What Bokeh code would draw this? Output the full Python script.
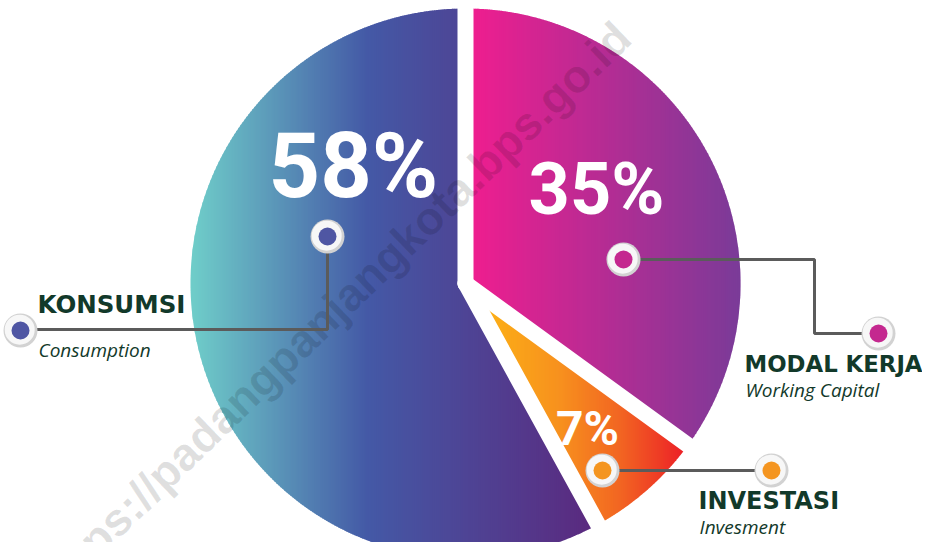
import numpy as np
from bokeh.plotting import figure
from bokeh.models import Range1d, ColumnDataSource
from bokeh.core.properties import value
from bokeh.embed import file_html
from bokeh.resources import INLINE

# ---------------- data ----------------
categories = ["MODAL KERJA", "INVESTASI", "KONSUMSI"]
subtitles = ["Working Capital", "Invesment", "Consumption"]
shares = [35, 7, 58]
pct_labels = ["35%", "7%", "58%"]
watermark = "https://padangpanjangkota.bps.go.id"

# ---------------- style / layout ----------------
slice_stops = [
    [(473, "#ee1e8f"), (740, "#7a3b98")],
    [(473, "#fdb515"), (560, "#f7901e"), (620, "#f26522"), (682, "#ec2227")],
    [(192, "#6fcdc9"), (367, "#4459a6"), (585, "#5a2b80")],
]
inner_colors = ["#c4288f", "#f49520", "#4f56a3"]
CX, CY, R = 465.0, 283.0, 275.0
GAP = 16
TEXT_DARK = "#12392a"
LINE_GREY = "#5b5b5b"
# empirical baseline correction (fraction of font size) per font
SHIFT = {"DejaVu Sans": 0.43, "Open Sans": 0.37, "Roboto": 0.36}

W, H = 922, 542
p = figure(width=W, height=H, x_range=Range1d(0, W), y_range=Range1d(H, 0),
           output_backend="svg", toolbar_location=None, min_border=0,
           x_axis_type=None, y_axis_type=None)
p.grid.visible = False
p.outline_line_color = None
p.background_fill_color = "white"
p.border_fill_color = "white"


def hex2rgb(h):
    h = h.lstrip("#")
    return np.array([int(h[i:i + 2], 16) for i in (0, 2, 4)], dtype=float)


def grad_color(stops, x):
    xs = [s[0] for s in stops]
    cs = [hex2rgb(s[1]) for s in stops]
    c = cs[-1]
    if x <= xs[0]:
        c = cs[0]
    else:
        for i in range(len(xs) - 1):
            if xs[i] <= x <= xs[i + 1]:
                t = (x - xs[i]) / (xs[i + 1] - xs[i])
                c = cs[i] * (1 - t) + cs[i + 1] * t
                break
    return "#%02x%02x%02x" % tuple(int(round(v)) for v in c)


def clip_half(pts, inside, xcut):
    out = []
    n = len(pts)
    for i in range(n):
        cur, prev = pts[i], pts[i - 1]
        ci, pi_ = inside(cur), inside(prev)
        if ci:
            if not pi_:
                t = (xcut - prev[0]) / (cur[0] - prev[0])
                out.append((xcut, prev[1] + t * (cur[1] - prev[1])))
            out.append(cur)
        elif pi_:
            t = (xcut - prev[0]) / (cur[0] - prev[0])
            out.append((xcut, prev[1] + t * (cur[1] - prev[1])))
    return out


def clip_strip(poly, x0, x1):
    pts = clip_half(poly, lambda q: q[0] >= x0, x0)
    if len(pts) < 3:
        return []
    pts = clip_half(pts, lambda q: q[0] <= x1, x1)
    return pts if len(pts) >= 3 else []


def label(x, y, txt, font, size, color, style="normal", align="left"):
    p.text(x=[x], y=[y - SHIFT[font] * size], text=[txt], text_font=value(font),
           text_font_style=style, text_font_size="%gpx" % size, text_color=color,
           text_align=align, text_baseline="alphabetic")


# angles measured clockwise from 12 o'clock (screen coordinates, y down)
total = float(sum(shares))
bounds = np.concatenate([[0.0], np.cumsum(shares) / total * 360.0])

xs_all, ys_all, cols_all = [], [], []
for k in range(len(shares)):
    a0, a1 = bounds[k], bounds[k + 1]
    th = np.radians(np.linspace(a0, a1, int((a1 - a0) * 4) + 2))
    poly = [(CX, CY)] + [(CX + R * np.sin(t), CY - R * np.cos(t)) for t in th]
    xmin = min(q[0] for q in poly)
    xmax = max(q[0] for q in poly)
    step = 2.0
    x = np.floor(xmin)
    while x < xmax:
        piece = clip_strip(poly, x, x + step + 0.7)
        if piece:
            xs_all.append([q[0] for q in piece])
            ys_all.append([q[1] for q in piece])
            cols_all.append(grad_color(slice_stops[k], x + step / 2))
        x += step

p.patches(xs="xs", ys="ys", fill_color="c", line_color=None,
          source=ColumnDataSource(dict(xs=xs_all, ys=ys_all, c=cols_all)))

# white separators between slices
for b in bounds[:-1]:
    t = np.radians(b)
    p.line([CX, CX + (R + 20) * np.sin(t)], [CY, CY - (R + 20) * np.cos(t)],
           line_color="white", line_width=GAP, line_cap="round")

# watermark
p.text(x=[333], y=[309], text=[watermark], angle=[np.radians(44)],
       text_font=value("Liberation Sans"), text_font_style="bold",
       text_font_size="46px", text_color="black", text_alpha=0.12,
       text_align="center", text_baseline="middle")

# percentage labels
pct_pos = [(596, 215, 72), (587, 445, 48), (353, 198, 90)]
for (px, py, fs), lab in zip(pct_pos, pct_labels):
    label(px, py, lab, "Roboto", fs, "white", style="bold", align="center")

# leader lines
leaders = [
    ([623, 814, 814, 878], [259, 259, 333, 333]),
    ([602, 771], [470, 470]),
    ([327, 327, 20], [236, 329, 329]),
]
for lx, ly in leaders:
    p.line(lx, ly, line_color=LINE_GREY, line_width=3)

# markers (inner and outer for each category)
marker_pts = [
    [(623, 259), (878, 333)],
    [(602, 470), (771, 470)],
    [(327, 236), (20, 330)],
]
for pts, col in zip(marker_pts, inner_colors):
    mx = [q[0] for q in pts]
    my = [q[1] for q in pts]
    p.scatter(mx, my, size=34, fill_color="#d2d2d2", line_color=None)
    p.scatter([v - 0.8 for v in mx], [v - 0.8 for v in my], size=30,
              fill_color="#f7f7f7", line_color=None)
    p.scatter(mx, my, size=18, fill_color=col, line_color=None)

# category labels
label_pos = [(744, 373, 397, 22.8), (698, 511, 534, 24), (37, 315, 357, 24.5)]
for (lx, by, sy, fs), cat, sub in zip(label_pos, categories, subtitles):
    label(lx, by, cat, "DejaVu Sans", fs, TEXT_DARK, style="bold")
    label(lx + 1, sy, sub, "Open Sans", 19, TEXT_DARK, style="italic")

open("out.html", "w").write(file_html(p, INLINE))
